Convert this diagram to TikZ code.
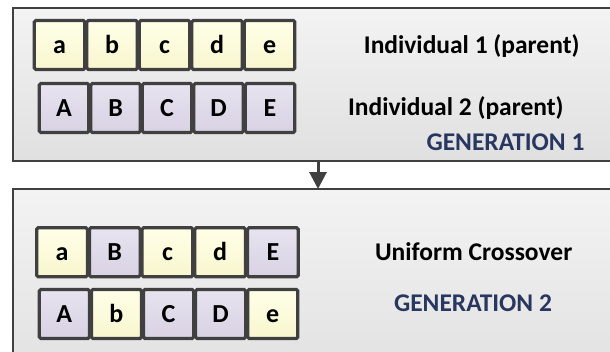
\documentclass[tikz,border=0pt]{standalone}
\usepackage{fontspec}
\setmainfont{Carlito}
\usetikzlibrary{arrows.meta}
\definecolor{edge}{HTML}{404040}
\definecolor{navy}{HTML}{28375F}
\definecolor{ytop}{HTML}{FFFFE8}
\definecolor{ybot}{HTML}{F8F6CE}
\definecolor{ptop}{HTML}{E7E3EF}
\definecolor{pbot}{HTML}{D8D2E3}
\definecolor{gtop}{HTML}{F3F3F3}
\definecolor{gbot}{HTML}{E0E0E0}
\begin{document}
\begin{tikzpicture}[x=1pt,y=-1pt,
  panel/.style={draw=edge, line width=2.5pt, top color=gtop, bottom color=gbot, outer sep=0pt, anchor=north west, inner sep=0pt},
  cellbox/.style={draw=edge, line width=3.2pt, rounded corners=1.5pt, minimum height=49pt, text height=17pt, text depth=0pt, inner sep=0pt, font=\fontsize{26}{26}\selectfont\bfseries},
  Y/.style={top color=ytop, bottom color=ybot},
  P/.style={top color=ptop, bottom color=pbot},
  title/.style={anchor=base, font=\fontsize{25.5}{25.5}\selectfont\bfseries, inner sep=0pt},
  gen/.style={title, text=navy},
  link/.style={draw=edge, line width=3pt, -{Triangle[length=17pt,width=17pt]}}
]
\useasboundingbox (0,0) rectangle (610,351);
\clip (0,0) rectangle (610,351);
\node[panel, minimum width=640pt, minimum height=153pt] (gen1) at (13,8) {};
\node[panel, minimum width=640pt, minimum height=200pt] (gen2) at (13,189) {};
\coordinate (ax) at (318,175);
\draw[link] (gen1.south -| ax) -- (gen2.north -| ax);

\foreach \t/\s [count=\i] in {a/Y,b/Y,c/Y,d/Y,e/Y}
  \node[cellbox, \s, minimum width=50.5pt] (ra\i) at ({33.3+52.5*(\i-0.5)},45) {\t};
\foreach \t/\s [count=\i] in {A/P,B/P,C/P,D/P,E/P}
  \node[cellbox, \s, minimum width=49.5pt] (rb\i) at ({38.3+51.5*(\i-0.5)},108) {\t};
\foreach \t/\s [count=\i] in {a/Y,B/P,c/Y,d/Y,E/P}
  \node[cellbox, \s, minimum width=50.7pt] (rc\i) at ({35.7+52.7*(\i-0.5)},252.3) {\t};
\foreach \t/\s [count=\i] in {A/P,b/Y,C/P,D/P,e/Y}
  \node[cellbox, \s, minimum width=50.1pt] (rd\i) at ({38.3+52.1*(\i-0.5)},314) {\t};

\node[title] (t1) at (471.7,53.3) {Individual 1 (parent)};
\node[title] (t2) at (455.8,115) {Individual 2 (parent)};
\node[gen] (g1) at (505.5,150) {GENERATION 1};
\node[title] (t3) at (473.7,260) {Uniform Crossover};
\node[gen] (g2) at (473,311) {GENERATION 2};
\end{tikzpicture}
\end{document}
